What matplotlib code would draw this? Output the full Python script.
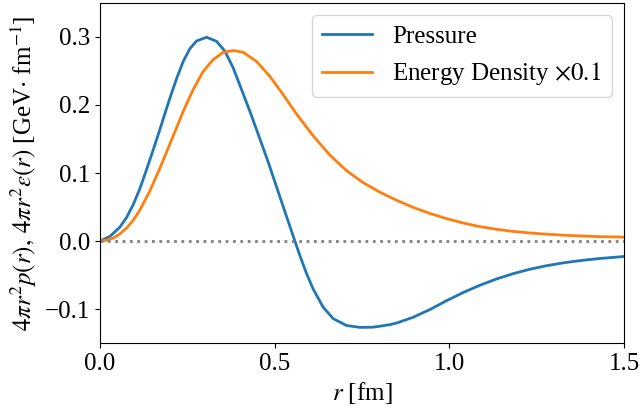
import numpy as np
import matplotlib
matplotlib.use("Agg")
import matplotlib.pyplot as plt

plt.rcParams['font.family'] = 'serif'
plt.rcParams['font.serif'] = ['Liberation Serif', 'DejaVu Serif']
plt.rcParams['mathtext.fontset'] = 'stix'
plt.rcParams['font.size'] = 18

# pressure curve, 4 pi r^2 p(r) [GeV/fm]
r_p = [0.0, 0.0286, 0.0573, 0.0763, 0.0954, 0.1145, 0.1336, 0.1527, 0.1718, 0.191,
       0.2004, 0.2195, 0.2386, 0.2577, 0.2768, 0.3055, 0.334, 0.358, 0.3817, 0.4056,
       0.4294, 0.4504, 0.4826, 0.5153, 0.5344, 0.5535, 0.5726, 0.5917, 0.6107, 0.6393,
       0.668, 0.706, 0.7443, 0.7824, 0.830, 0.849, 0.897, 0.945, 0.9925, 1.040,
       1.088, 1.136, 1.183, 1.231, 1.279, 1.326, 1.374, 1.422, 1.5]
pressure = [0.0, 0.0068, 0.0205, 0.0345, 0.0534, 0.077, 0.105, 0.134, 0.164, 0.195,
            0.210, 0.2385, 0.264, 0.2828, 0.294, 0.2995, 0.2935, 0.279, 0.2544, 0.2225,
            0.1906, 0.161, 0.115, 0.065, 0.036, 0.007, -0.0215, -0.0479, -0.0707, -0.0973,
            -0.114, -0.124, -0.1268, -0.1265, -0.1228, -0.1205, -0.1118, -0.1005, -0.0875, -0.0755,
            -0.0648, -0.0555, -0.0478, -0.0413, -0.0361, -0.032, -0.0287, -0.026, -0.0226]

# energy density curve (scaled by 0.1)
r_e = [0.0, 0.019, 0.038, 0.0573, 0.0763, 0.0954, 0.1145, 0.143, 0.1718, 0.2004,
       0.2386, 0.267, 0.2958, 0.3244, 0.353, 0.3817, 0.4103, 0.4485, 0.4867, 0.5248,
       0.563, 0.6107, 0.6585, 0.706, 0.7538, 0.8016, 0.849, 0.897, 0.945, 0.9925,
       1.040, 1.088, 1.136, 1.183, 1.231, 1.279, 1.326, 1.374, 1.422, 1.5]
energy = [0.0, 0.0012, 0.0044, 0.0105, 0.019, 0.0305, 0.0455, 0.0735, 0.107, 0.1425,
          0.1906, 0.2225, 0.2494, 0.2666, 0.2774, 0.280, 0.2774, 0.264, 0.242, 0.215,
          0.1866, 0.1545, 0.1262, 0.1035, 0.0858, 0.0718, 0.060, 0.0495, 0.0405, 0.033,
          0.0265, 0.0212, 0.0172, 0.0142, 0.0119, 0.0101, 0.0087, 0.0076, 0.0067, 0.0058]

fig, ax = plt.subplots(figsize=(6.4, 4.11), dpi=100)
fig.subplots_adjust(left=0.156, right=0.975, top=0.993, bottom=0.165)

ax.plot(r_p, pressure, color='tab:blue', lw=2, label='Pressure')
ax.plot(r_e, energy, color='tab:orange', lw=2, label=r'Energy Density $\times 0.1$')
ax.axhline(0, color='gray', ls=':', lw=2)

ax.set_xlim(0, 1.5)
ax.set_ylim(-0.15, 0.35)
ax.set_xticks([0.0, 0.5, 1.0, 1.5])
ax.set_yticks([-0.1, 0.0, 0.1, 0.2, 0.3])
ax.set_xlabel(r'$r$ [fm]')
ax.set_ylabel(r'$4\pi r^2 p(r),\, 4\pi r^2 \epsilon(r)$ [GeV$\cdot$ fm$^{-1}$]')
ax.legend(loc='upper right')

fig.savefig('out.png', dpi=100)
